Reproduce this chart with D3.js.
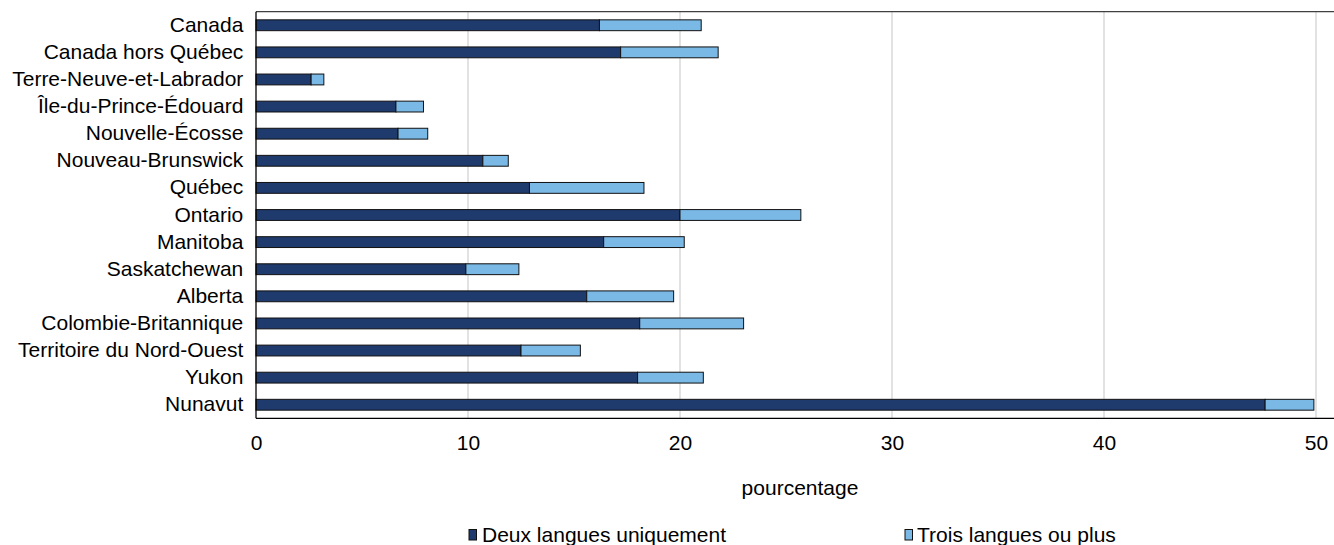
<!DOCTYPE html>
<html>
<head>
<meta charset="utf-8">
<script src="https://cdn.jsdelivr.net/npm/d3@7"></script>
<style>
  html, body { margin: 0; padding: 0; background: #fff; }
  svg { display: block; font-family: "Liberation Sans", Arial, sans-serif; }
</style>
</head>
<body>
<svg id="chart" width="1334" height="545"></svg>
<script>
const categories = [
  "Canada", "Canada hors Québec", "Terre-Neuve-et-Labrador", "Île-du-Prince-Édouard",
  "Nouvelle-Écosse", "Nouveau-Brunswick", "Québec", "Ontario", "Manitoba",
  "Saskatchewan", "Alberta", "Colombie-Britannique", "Territoire du Nord-Ouest",
  "Yukon", "Nunavut"
];
const deuxLangues = [16.2, 17.2, 2.6, 6.6, 6.7, 10.7, 12.9, 20.0, 16.4, 9.9, 15.6, 18.1, 12.5, 18.0, 47.6];
const troisLangues = [4.8, 4.6, 0.6, 1.3, 1.4, 1.2, 5.4, 5.7, 3.8, 2.5, 4.1, 4.9, 2.8, 3.1, 2.3];
const seriesNames = ["Deux langues uniquement", "Trois langues ou plus"];
const xTicks = [0, 10, 20, 30, 40, 50];
const xTitle = "pourcentage";

(function () {
const colors = ["#1f3a6d", "#7ab8e5"];
const svg = d3.select("#chart");
const pLeft = 256, pRight = 1334, xMaxPx = 1316, pTop = 11.7, pBottom = 418.3;
const fontSize = 21;

const x = d3.scaleLinear().domain([0, 50]).range([pLeft, xMaxPx]);
const y = d3.scaleBand().domain(categories).range([pTop, pBottom]).paddingInner(0.6).paddingOuter(0.3);

// gridlines
svg.append("g").selectAll("line").data(xTicks.filter(d => d > 0)).join("line")
  .attr("x1", d => x(d)).attr("x2", d => x(d))
  .attr("y1", pTop).attr("y2", pBottom)
  .attr("stroke", "#d9d9d9").attr("stroke-width", 1.5);

// stacked data
const rows = categories.map((c, i) => ({ cat: c, deux: deuxLangues[i], trois: troisLangues[i] }));
const stack = d3.stack().keys(["deux", "trois"])(rows);

svg.append("g").selectAll("g").data(stack).join("g")
  .attr("fill", (d, i) => colors[i])
  .selectAll("rect").data(d => d).join("rect")
  .attr("x", d => x(d[0]))
  .attr("width", d => x(d[1]) - x(d[0]))
  .attr("y", d => y(d.data.cat))
  .attr("height", y.bandwidth())
  .attr("stroke", "#111").attr("stroke-width", 1);

// frame lines
svg.append("line").attr("x1", pLeft).attr("x2", pRight).attr("y1", pTop).attr("y2", pTop)
  .attr("stroke", "#404040").attr("stroke-width", 1.3);
svg.append("line").attr("x1", pLeft).attr("x2", pRight).attr("y1", pBottom).attr("y2", pBottom)
  .attr("stroke", "#000").attr("stroke-width", 1.3);
svg.append("line").attr("x1", pLeft).attr("x2", pLeft).attr("y1", pTop).attr("y2", pBottom)
  .attr("stroke", "#000").attr("stroke-width", 1.3);

// x axis
const xAxis = svg.append("g").attr("transform", `translate(0,${pBottom})`)
  .call(d3.axisBottom(x).tickValues(xTicks).tickSize(0).tickPadding(16.6));
xAxis.select(".domain").remove();
xAxis.selectAll("text").attr("font-size", fontSize).attr("fill", "#000")
  .style("font-family", "'Liberation Sans', Arial, sans-serif");

// y axis
const yAxis = svg.append("g").attr("transform", `translate(${pLeft},0)`)
  .call(d3.axisLeft(y).tickSize(0).tickPadding(12.7));
yAxis.select(".domain").remove();
yAxis.selectAll("text").attr("font-size", fontSize).attr("fill", "#000").attr("dy", "0.31em")
  .style("font-family", "'Liberation Sans', Arial, sans-serif");

// x title
svg.append("text").attr("x", 800).attr("y", 495).attr("text-anchor", "middle")
  .attr("font-size", fontSize).attr("fill", "#000").text(xTitle);

// legend
const legendPos = [{ sx: 469, tx: 482 }, { sx: 905, tx: 917 }];
seriesNames.forEach((name, i) => {
  svg.append("rect").attr("x", legendPos[i].sx).attr("y", 529.5).attr("width", 7.5).attr("height", 10.5)
    .attr("fill", colors[i]).attr("stroke", "#111").attr("stroke-width", 1);
  svg.append("text").attr("x", legendPos[i].tx).attr("y", 541.7)
    .attr("font-size", fontSize).attr("fill", "#000").text(name);
});
})();
</script>
</body>
</html>
